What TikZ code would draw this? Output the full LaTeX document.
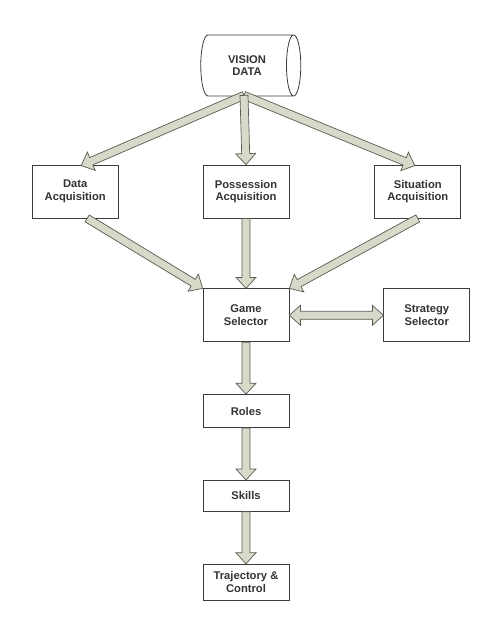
\documentclass[tikz,border=0pt]{standalone}
\usepackage{fontspec}
\setmainfont{Liberation Sans}
\usepackage{tikz}
\usetikzlibrary{calc, positioning, shapes.geometric}
\definecolor{arrowfill}{HTML}{D8D9C9}
\definecolor{arrowline}{HTML}{5A5A52}
\definecolor{boxline}{HTML}{3C3C3C}
\definecolor{textgray}{HTML}{333333}
\tikzset{
	x = 1pt,
	y = 1pt,
	node distance = 52pt,
	font = \fontsize{11.2}{12.6}\selectfont\bfseries,
	box/.style={
		draw=boxline,
		fill=white,
		line width=.8pt,
		text=textgray,
		align=center,
		minimum width=86pt,
		inner sep=0pt
	},
	tall box/.style={
		box,
		minimum height=53pt
	},
	datastore/.style={
		draw=boxline,
		fill=white,
		line width=.8pt,
		text=textgray,
		align=center,
		cylinder,
		aspect=.7,
		minimum width=61pt,
		minimum height=100pt,
		inner sep=0pt
	},
	fat arrow/.style={
		draw=arrowline,
		fill=arrowfill,
		line width=.7pt,
		line join=miter
	}
}
% block arrow from #1 to #2
\newcommand{\fatarrow}[2]{
	\path ($(#2)!11pt!(#1)$) coordinate (fa-base);
	\filldraw[fat arrow] ($(#1)!4pt!90:(#2)$) -- ($(fa-base)!4pt!90:(#2)$)
		-- ($(fa-base)!10pt!90:(#2)$) -- (#2)
		-- ($(fa-base)!10pt!-90:(#2)$) -- ($(fa-base)!4pt!-90:(#2)$)
		-- ($(#1)!4pt!-90:(#2)$) -- cycle;
}
% block arrow with heads at both ends
\newcommand{\fatarrows}[2]{
	\path ($(#1)!11pt!(#2)$) coordinate (fa-start)
		($(#2)!11pt!(#1)$) coordinate (fa-end);
	\filldraw[fat arrow] (#1) -- ($(fa-start)!10pt!90:(#2)$)
		-- ($(fa-start)!4pt!90:(#2)$) -- ($(fa-end)!4pt!90:(#2)$)
		-- ($(fa-end)!10pt!90:(#2)$) -- (#2)
		-- ($(fa-end)!10pt!-90:(#2)$) -- ($(fa-end)!4pt!-90:(#2)$)
		-- ($(fa-start)!4pt!-90:(#2)$) -- ($(fa-start)!10pt!-90:(#2)$) -- cycle;
}

\begin{document}
\begin{tikzpicture}
	\useasboundingbox (0,0) rectangle (498,-623);

	\node[datastore] (vision) at (247,-65.5) {VISION\\DATA};
	\node[tall box] (possacq) at (246,-191.5) {Possession\\Acquisition};
	\node[tall box, left=84pt of possacq] (dataacq) {Data\\Acquisition};
	\node[tall box, right=85pt of possacq] (sitacq) {Situation\\Acquisition};
	\node[tall box, below=70pt of possacq] (game) {Game\\Selector};
	\node[tall box, right=94pt of game] (strategy) {Strategy\\Selector};
	\node[box, minimum height=33pt, below=of game] (roles) {Roles};
	\node[box, minimum height=31pt, below=of roles] (skills) {Skills};
	\node[box, minimum height=36pt, below=of skills] (traj) {Trajectory \&\\Control};

	% ---
	% Vision data to the acquisition boxes
	% ---
	\coordinate (src) at ($(vision.south)+(-3,1)$);
	\fatarrow{src}{$(dataacq.north)+(6,-1)$}
	\fatarrow{src}{$(sitacq.north)+(-3,-1)$}
	\fatarrow{src}{possacq.north}

	% ---
	% Acquisition boxes to the game selector
	% ---
	\fatarrow{$(dataacq.south)+(12,0)$}{game.north west}
	\fatarrow{sitacq.south}{game.north east}
	\fatarrow{possacq.south}{game.north}
	\fatarrows{game.east}{strategy.west}

	% ---
	% Down the chain
	% ---
	\fatarrow{game.south}{roles.north}
	\fatarrow{roles.south}{skills.north}
	\fatarrow{skills.south}{traj.north}
\end{tikzpicture}
\end{document}
